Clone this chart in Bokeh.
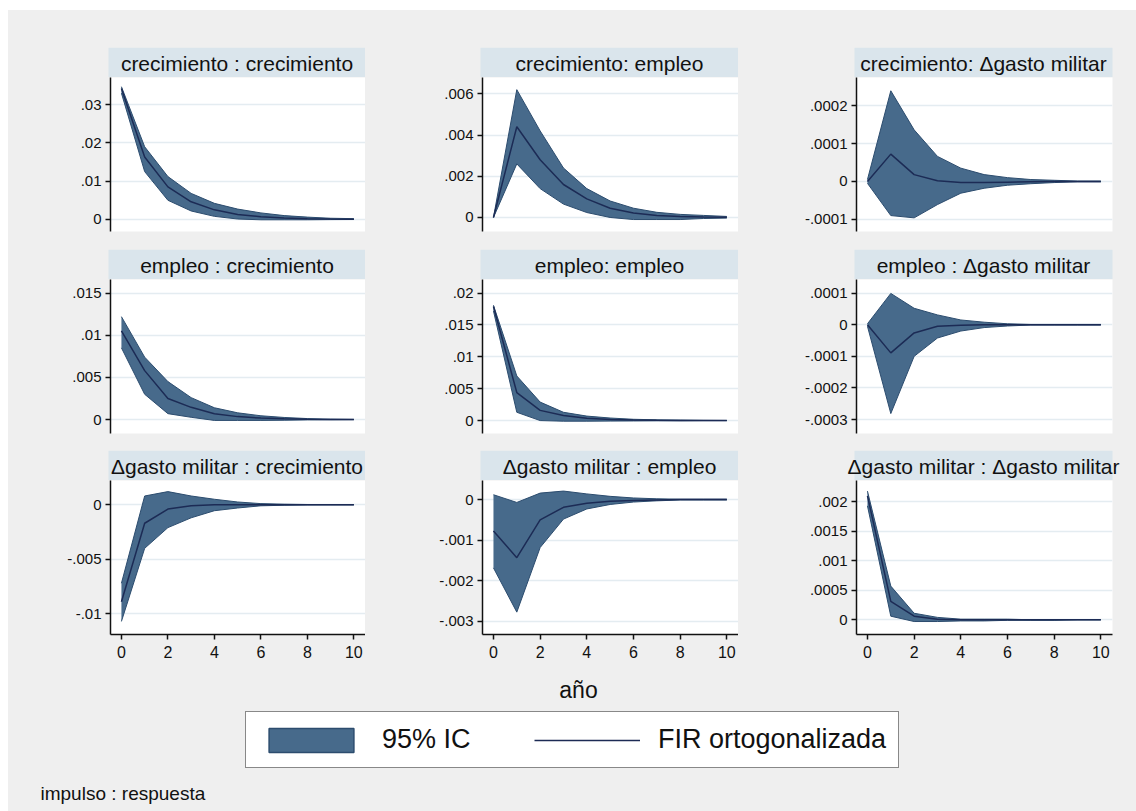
from bokeh.plotting import figure
from bokeh.layouts import row, column, Spacer
from bokeh.models import Range1d, FixedTicker, CustomJSTickFormatter, Legend, LegendItem
from bokeh.core.properties import value
from bokeh.embed import file_html
from bokeh.resources import INLINE

# ---------------- data ----------------
steps = [0, 1, 2, 3, 4, 5, 6, 7, 8, 9, 10]
x_ticks = [0, 2, 4, 6, 8, 10]

# crecimiento : crecimiento
irf_cc = [0.0342, 0.0163, 0.0085, 0.0046, 0.0025, 0.0013, 0.0007, 0.0004, 0.0002, 0.0001, 0.00005]
lo_cc = [0.0330, 0.0125, 0.0050, 0.0022, 0.0008, 0.0001, -0.0001, -0.0001, -0.0001, -0.00005, -0.00003]
hi_cc = [0.0347, 0.0190, 0.0112, 0.0068, 0.0042, 0.0027, 0.0017, 0.0010, 0.0006, 0.0003, 0.0002]

# crecimiento : empleo
irf_ce = [0.0, 0.0044, 0.0028, 0.0016, 0.0009, 0.00045, 0.00022, 0.0001, 0.00005, 0.00002, 0.00001]
lo_ce = [0.0, 0.0026, 0.0014, 0.00065, 0.00024, 0.0, -0.0001, -0.0001, -0.0001, -0.00005, -0.00003]
hi_ce = [0.0, 0.0062, 0.0042, 0.0024, 0.0014, 0.0008, 0.00045, 0.00025, 0.00015, 0.0001, 0.00005]

# crecimiento : Δgasto militar
irf_cg = [0.0, 0.000072, 0.000018, 0.000002, -0.000003, -0.000003, -0.000002, -0.000001, 0.0, 0.0, 0.0]
lo_cg = [-0.000005, -0.00009, -0.000096, -0.000061, -0.000031, -0.000018, -0.00001, -0.000006, -0.000003, -0.000001, -0.000001]
hi_cg = [0.000005, 0.000239, 0.000136, 0.000066, 0.000035, 0.000018, 0.00001, 0.000005, 0.000003, 0.000001, 0.000001]

# empleo : crecimiento
irf_ec = [0.0105, 0.0058, 0.0025, 0.00145, 0.0007, 0.00035, 0.00018, 0.00009, 0.00004, 0.00002, 0.00001]
lo_ec = [0.0085, 0.0030, 0.0007, 0.00027, -0.0001, -0.0001, -0.0001, -0.00008, -0.00004, -0.00002, -0.00001]
hi_ec = [0.0122, 0.0074, 0.0045, 0.0026, 0.0014, 0.0008, 0.00045, 0.00025, 0.00012, 0.00005, 0.00002]

# empleo : empleo
irf_ee = [0.0179, 0.0044, 0.0016, 0.0008, 0.00035, 0.00018, 0.00008, 0.00004, 0.00002, 0.00001, 0.0]
lo_ee = [0.0172, 0.0013, 0.0, -0.0001, -0.0001, -0.00008, -0.00006, -0.00004, -0.00003, -0.00001, -0.00001]
hi_ee = [0.0181, 0.0070, 0.0029, 0.0013, 0.0007, 0.0004, 0.0002, 0.00012, 0.00008, 0.00003, 0.00001]

# empleo : Δgasto militar
irf_eg = [0.0, -0.000089, -0.000026, -0.000005, -0.0000015, 0.0, 0.0, 0.0, 0.0, 0.0, 0.0]
lo_eg = [-0.000005, -0.000281, -0.0001, -0.000042, -0.00002, -0.000009, -0.000004, -0.000001, -0.000001, -0.000001, -0.000001]
hi_eg = [0.000003, 0.000099, 0.000052, 0.000031, 0.000015, 0.000008, 0.000003, 0.000001, 0.000001, 0.000001, 0.000001]

# Δgasto militar : crecimiento
irf_gc = [-0.0089, -0.0017, -0.0004, -0.0001, 0.0, 0.0, 0.0, 0.0, 0.0, 0.0, 0.0]
lo_gc = [-0.0107, -0.0040, -0.0021, -0.0012, -0.00055, -0.0003, -0.0001, -0.00005, -0.00002, -0.00001, -0.00001]
hi_gc = [-0.0072, 0.0008, 0.0012, 0.0008, 0.0005, 0.00025, 0.0001, 0.00005, 0.00002, 0.00001, 0.00001]

# Δgasto militar : empleo
irf_ge = [-0.00077, -0.00143, -0.0005, -0.00019, -0.00009, -0.00004, -0.00002, -0.00001, 0.0, 0.0, 0.0]
lo_ge = [-0.00168, -0.00277, -0.00118, -0.00048, -0.00023, -0.00012, -0.00006, -0.00003, -0.00001, -0.00001, -0.00001]
hi_ge = [0.00012, -0.00007, 0.00016, 0.00021, 0.00014, 0.00008, 0.00004, 0.00002, 0.00001, 0.00001, 0.00001]

# Δgasto militar : Δgasto militar
irf_gg = [0.0021, 0.00031, 0.00006, 0.00001, 0.0, 0.0, 0.0, 0.0, 0.0, 0.0, 0.0]
lo_gg = [0.00193, 0.00006, -0.00003, -0.00003, -0.00002, -0.00002, -0.00001, -0.00001, -0.00001, 0.0, 0.0]
hi_gg = [0.00218, 0.00057, 0.00011, 0.00004, 0.00001, 0.00001, 0.00001, 0.0, 0.0, 0.0, 0.0]

titles = [
    ["crecimiento : crecimiento", "crecimiento: empleo", "crecimiento: \u0394gasto militar"],
    ["empleo : crecimiento", "empleo: empleo", "empleo : \u0394gasto militar"],
    ["\u0394gasto militar : crecimiento", "\u0394gasto militar : empleo", "\u0394gasto militar : \u0394gasto militar"],
]
series = [
    [(irf_cc, lo_cc, hi_cc), (irf_ce, lo_ce, hi_ce), (irf_cg, lo_cg, hi_cg)],
    [(irf_ec, lo_ec, hi_ec), (irf_ee, lo_ee, hi_ee), (irf_eg, lo_eg, hi_eg)],
    [(irf_gc, lo_gc, hi_gc), (irf_ge, lo_ge, hi_ge), (irf_gg, lo_gg, hi_gg)],
]
y_ticks = [
    [[0, 0.01, 0.02, 0.03], [0, 0.002, 0.004, 0.006], [-0.0001, 0, 0.0001, 0.0002]],
    [[0, 0.005, 0.01, 0.015], [0, 0.005, 0.01, 0.015, 0.02], [-0.0003, -0.0002, -0.0001, 0, 0.0001]],
    [[-0.01, -0.005, 0], [-0.003, -0.002, -0.001, 0], [0, 0.0005, 0.001, 0.0015, 0.002]],
]
y_ranges = [
    [(-0.00316, 0.0371), (-0.00068, 0.00679), (-0.000132, 0.000274)],
    [(-0.00165, 0.0166), (-0.00203, 0.02214), (-0.000344, 0.000143)],
    [(-0.0119, 0.00222), (-0.00332, 0.00047), (-0.00025, 0.00236)],
]
legend_labels = ["95% IC", "FIR ortogonalizada"]
x_title = "a\u00f1o"
note = "impulso : respuesta"

# ---------------- style ----------------
FONT = "Liberation Sans"
BG = "#efefef"
STRIP = "#dae5ec"
BAND = "#476a8b"
BAND_EDGE = "#2c4c6e"
LINE = "#1c2b55"
GRID = "#e4ecf1"

col_left = [102, 117, 118]
col_fw = [255, 256, 256]
col_right = [0, 0, 24]
row_bottom = [18, 17, 40]
FH = 154

fmt = CustomJSTickFormatter(code="""
if (tick === 0) { return '0'; }
return String(tick).replace('0.', '.');
""")


def make_strip(title, c):
    total = col_left[c] + col_fw[c] + col_right[c]
    s = figure(frame_width=total, frame_height=30, min_border=0,
               x_range=Range1d(0, total), y_range=Range1d(0, 30),
               x_axis_location=None, y_axis_location=None,
               toolbar_location=None, output_backend="svg",
               background_fill_color=BG, border_fill_color=BG,
               outline_line_color=None)
    s.grid.visible = False
    left = col_left[c] - 2
    right = col_left[c] + col_fw[c]
    s.quad(left=[left], right=[right], bottom=[0], top=[30],
           fill_color=STRIP, line_color=None)
    s.text(x=[(left + right) / 2], y=[14], text=[title], text_align="center",
           text_baseline="middle", text_font=value(FONT), text_font_size="21px",
           text_color="#111111")
    return s


def make_panel(r, c):
    irf, lo, hi = series[r][c]
    y0, y1 = y_ranges[r][c]
    p = figure(frame_width=col_fw[c], frame_height=FH,
               min_border_left=col_left[c], min_border_right=col_right[c],
               min_border_top=0, min_border_bottom=row_bottom[r],
               x_range=Range1d(-0.47, 10.5), y_range=Range1d(y0, y1),
               x_axis_location="below" if r == 2 else None,
               toolbar_location=None, output_backend="svg",
               background_fill_color="white", border_fill_color=BG,
               outline_line_color=None)
    p.xgrid.visible = False
    p.ygrid.ticker = FixedTicker(ticks=y_ticks[r][c])
    p.ygrid.grid_line_color = GRID
    p.ygrid.grid_line_width = 1.5
    yax = p.yaxis[0]
    yax.ticker = FixedTicker(ticks=y_ticks[r][c])
    yax.formatter = fmt
    yax.minor_tick_line_color = None
    yax.major_tick_out = 5
    yax.major_tick_in = 0
    yax.major_label_standoff = 4
    yax.major_label_text_font = FONT
    yax.major_label_text_font_size = "15px"
    yax.major_label_text_color = "#111111"
    yax.axis_line_color = "#111111"
    yax.axis_line_width = 1.5
    yax.major_tick_line_color = "#111111"
    yax.major_tick_line_width = 1.5
    if r == 2:
        xax = p.xaxis[0]
        xax.ticker = FixedTicker(ticks=x_ticks)
        xax.minor_tick_line_color = None
        xax.major_tick_out = 5
        xax.major_tick_in = 0
        xax.major_label_standoff = 6
        xax.major_label_text_font = FONT
        xax.major_label_text_font_size = "16px"
        xax.major_label_text_color = "#111111"
        xax.axis_line_color = "#111111"
        xax.axis_line_width = 1.5
        xax.major_tick_line_color = "#111111"
        xax.major_tick_line_width = 1.5
    p.varea(x=steps, y1=lo, y2=hi, fill_color=BAND)
    p.line(x=steps, y=lo, line_color=BAND_EDGE, line_width=1)
    p.line(x=steps, y=hi, line_color=BAND_EDGE, line_width=1)
    p.line(x=steps, y=irf, line_color=LINE, line_width=1.5)
    return p


rows = [Spacer(height=37, width=1128)]
for r in range(3):
    rows.append(row([make_strip(titles[r][c], c) for c in range(3)]))
    rows.append(row([make_panel(r, c) for c in range(3)]))

# bottom: x title, legend, note
b = figure(frame_width=1128, frame_height=137, min_border=0,
           x_range=Range1d(0, 1128), y_range=Range1d(0, 137),
           x_axis_location=None, y_axis_location=None,
           toolbar_location=None, output_backend="svg",
           background_fill_color=BG, border_fill_color=BG, outline_line_color=None)
b.grid.visible = False
b.text(x=[570], y=[122], text=[x_title], text_align="center", text_baseline="middle",
       text_font=value(FONT), text_font_size="23px", text_color="#111111")
b.text(x=[32], y=[18], text=[note], text_align="left", text_baseline="middle",
       text_font=value(FONT), text_font_size="19px", text_color="#111111")
# legend proxies kept outside the visible range
r_band = b.quad(left=[-100], right=[-90], top=[-100], bottom=[-90],
                fill_color=BAND, line_color=BAND_EDGE, line_width=1.5)
r_line = b.line(x=[-100, -90], y=[-100, -100], line_color=LINE, line_width=1.5)
leg = Legend(items=[LegendItem(label=legend_labels[0], renderers=[r_band]),
                    LegendItem(label=legend_labels[1], renderers=[r_line])],
             orientation="horizontal", location=(237, 43),
             glyph_width=106, glyph_height=30, label_standoff=18, spacing=48,
             label_width=104, padding=12, margin=0,
             label_text_font=FONT, label_text_font_size="27px", label_text_color="#111111",
             label_text_baseline="middle",
             border_line_color="#111111", border_line_width=1.5,
             background_fill_color="white", background_fill_alpha=1.0)
b.add_layout(leg)
rows.append(b)

gray = column(rows, spacing=0, styles={"background-color": BG})
page = column([Spacer(height=10, width=1136), row([Spacer(width=8, height=801), gray], spacing=0)], spacing=0)

open("out.html", "w").write(file_html(page, INLINE))
